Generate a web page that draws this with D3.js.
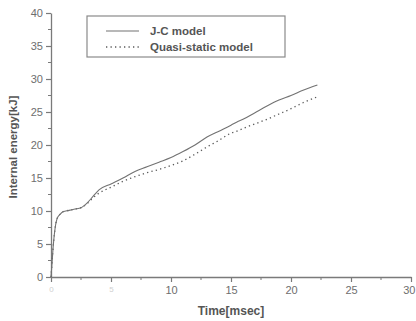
<!DOCTYPE html>
<html>
<head>
<meta charset="utf-8">
<script src="https://cdn.jsdelivr.net/npm/d3@7"></script>
<style>
  body { margin: 0; background: #fff; }
  svg { font-family: "Liberation Sans", Arial, sans-serif; }
</style>
</head>
<body>
<svg id="chart" width="416" height="321"></svg>
<script>
"use strict";

// time [msec]
const time = [0, 0.1, 0.2, 0.35, 0.5, 0.75, 1, 1.5, 2, 2.5, 3, 3.5, 4, 5, 6, 7, 8, 9, 10,
  11, 12, 13, 14, 15, 15.5, 16, 17, 18, 19, 20, 21, 22.2];
// internal energy [kJ]
const jcModel = [0, 2.5, 5, 7.5, 8.8, 9.5, 9.9, 10.1, 10.3, 10.5, 11.2, 12.2, 13.2, 14.1, 15.0, 16.0,
  16.7, 17.4, 18.1, 19.0, 20.0, 21.2, 22.1, 23.0, 23.5, 23.9, 24.9, 25.9, 26.8, 27.5, 28.3, 29.1];
const quasiStatic = [0, 2.5, 5, 7.5, 8.8, 9.5, 9.9, 10.1, 10.3, 10.5, 11.1, 12.0, 12.7, 13.6, 14.5, 15.2,
  15.8, 16.3, 16.9, 17.6, 18.6, 19.7, 20.7, 21.8, 22.1, 22.5, 23.2, 23.9, 24.7, 25.5, 26.4, 27.3];

const xTicks = [0, 5, 10, 15, 20, 25, 30];
const yTicks = [0, 5, 10, 15, 20, 25, 30, 35, 40];
const legendLabels = ["J-C model", "Quasi-static model"];

const svg = d3.select("#chart");
const axisColor = "#7a7a7a";

const x = d3.scaleLinear().domain([0, 30]).range([51, 411]);
const y = d3.scaleLinear().domain([0, 40]).range([277, 13]);

// minor ticks
const minorX = d3.range(2.5, 30, 5);
const minorY = d3.range(2.5, 40, 5);

svg.append("g").selectAll("line").data(minorX).enter().append("line")
  .attr("x1", d => x(d)).attr("x2", d => x(d))
  .attr("y1", y(0)).attr("y2", y(0) + 3)
  .attr("stroke", axisColor);
svg.append("g").selectAll("line").data(minorY).enter().append("line")
  .attr("x1", x(0) - 3).attr("x2", x(0))
  .attr("y1", d => y(d)).attr("y2", d => y(d))
  .attr("stroke", axisColor);

const xAxis = svg.append("g")
  .attr("transform", `translate(0,${y(0)})`)
  .call(d3.axisBottom(x).tickValues(xTicks).tickSize(5).tickPadding(4).tickSizeOuter(0));
const yAxis = svg.append("g")
  .attr("transform", `translate(${x(0)},0)`)
  .call(d3.axisLeft(y).tickValues(yTicks).tickSize(5).tickPadding(3).tickSizeOuter(0));

[xAxis, yAxis].forEach(g => {
  g.select(".domain").attr("stroke", axisColor).attr("stroke-width", 1.3);
  g.selectAll(".tick line").attr("stroke", axisColor).attr("stroke-width", 1.2);
  g.selectAll(".tick text").attr("fill", "#6e6e6e").attr("font-size", 11);
});
// the first two x labels are almost washed out in the picture
xAxis.selectAll(".tick text").filter(d => d < 10).attr("fill", "#d0d0d0").attr("font-size", 8);
// keep the last label inside the page
xAxis.selectAll(".tick text").filter(d => d === 30).attr("text-anchor", "end").attr("dx", 4);

const line = d3.line()
  .x((d, i) => x(time[i]))
  .y(d => y(d))
  .curve(d3.curveMonotoneX);

svg.append("path").datum(quasiStatic)
  .attr("d", line).attr("fill", "none")
  .attr("stroke", "#5a5a5a").attr("stroke-width", 1.3)
  .attr("stroke-dasharray", "1.3,3.2");
svg.append("path").datum(jcModel)
  .attr("d", line).attr("fill", "none")
  .attr("stroke", "#727272").attr("stroke-width", 1.1);

// axis titles
svg.append("text")
  .attr("transform", "translate(17,147) rotate(-90)")
  .attr("text-anchor", "middle")
  .attr("font-size", 11.5).attr("font-weight", "bold").attr("fill", "#555")
  .text("Internal energy[kJ]");
svg.append("text")
  .attr("x", 231).attr("y", 315)
  .attr("text-anchor", "middle")
  .attr("font-size", 12).attr("font-weight", "bold").attr("fill", "#555")
  .text("Time[msec]");

// legend
const legend = svg.append("g");
legend.append("rect")
  .attr("x", 87).attr("y", 16).attr("width", 198).attr("height", 41)
  .attr("fill", "#fff").attr("stroke", "#8a8a8a").attr("stroke-width", 1.2);
legendLabels.forEach((label, i) => {
  const ly = 31 + i * 16;
  legend.append("line")
    .attr("x1", 106).attr("x2", 139).attr("y1", ly).attr("y2", ly)
    .attr("stroke", i === 1 ? "#5a5a5a" : "#727272")
    .attr("stroke-width", i === 1 ? 1.3 : 1.1)
    .attr("stroke-dasharray", i === 1 ? "1.3,3.2" : null);
  legend.append("text")
    .attr("x", 150).attr("y", ly + 4)
    .attr("font-size", 11.5).attr("font-weight", "bold").attr("fill", "#555")
    .text(label);
});
</script>
</body>
</html>
